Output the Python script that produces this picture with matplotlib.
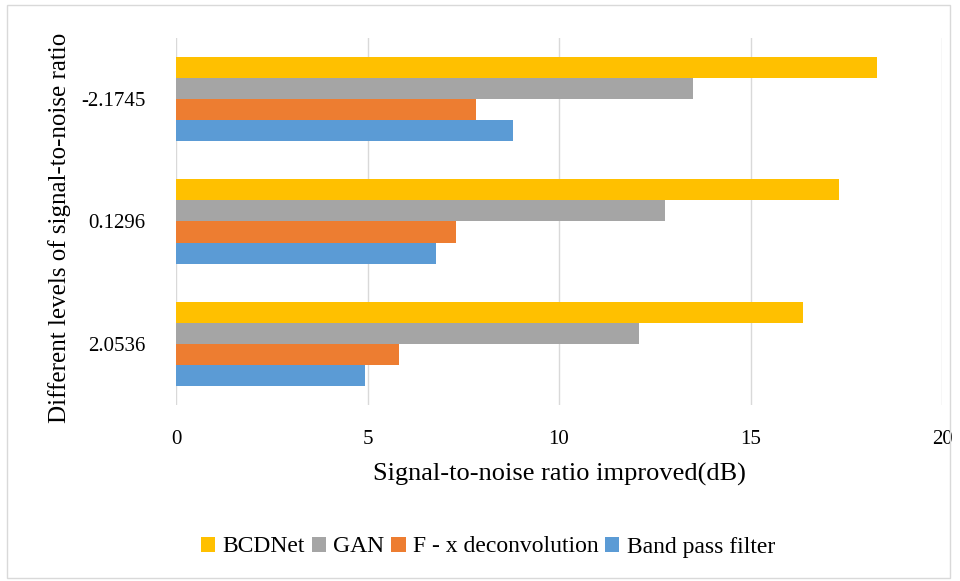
import numpy as np
import matplotlib
matplotlib.use("Agg")
import matplotlib.pyplot as plt
from matplotlib.patches import Rectangle

plt.rcParams["font.family"] = ["Liberation Serif", "DejaVu Serif"]

levels = ["2.0536", "0.1296", "-2.1745"]
bcdnet = [16.37, 17.31, 18.30]
gan = [12.09, 12.76, 13.49]
fx_decon = [5.81, 7.31, 7.84]
band_pass = [4.94, 6.80, 8.80]

series = [
    ("Band pass filter", band_pass, "#5B9BD5"),
    ("F - x deconvolution", fx_decon, "#ED7D31"),
    ("GAN", gan, "#A5A5A5"),
    ("BCDNet", bcdnet, "#FFC000"),
]

fig = plt.figure(figsize=(9.6, 5.81), dpi=100)
ax = fig.add_axes([176 / 960, 1 - 405 / 581, (942 - 176) / 960, (405 - 38) / 581])

y = np.arange(len(levels))
h = 0.172
handles = {}
for i, (name, vals, col) in enumerate(series):
    b = ax.barh(y + (i - 1.5) * h, vals, height=h, color=col, label=name, zorder=3)
    handles[name] = b

ax.set_xlim(0, 20)
ax.set_ylim(-0.5, 2.5)
ax.set_xticks([0, 5, 10, 15, 20])
ax.set_yticks(y)
ax.set_yticklabels(levels)
ax.tick_params(length=0, labelsize=15)
ax.tick_params(axis="y", pad=22)
ax.tick_params(axis="x", pad=18)
ax.grid(axis="x", color="#D9D9D9", linewidth=1, zorder=0)
for s in ax.spines.values():
    s.set_visible(False)

ax.set_xlabel("Signal-to-noise ratio improved(dB)", fontsize=19, labelpad=10)
fig.text(60 / 960, 1 - 228 / 581, "Different levels of signal-to-noise ratio",
         rotation=90, ha="center", va="center", fontsize=18)

order = ["BCDNet", "GAN", "F - x deconvolution", "Band pass filter"]
fig.legend([handles[n] for n in order], order, loc="center",
           bbox_to_anchor=(488 / 960, 1 - 547 / 581), ncol=4, frameon=False,
           fontsize=17, handlelength=0.6, handleheight=0.6, handletextpad=0.3,
           columnspacing=0.3)

fig.patches.append(Rectangle((0.007, 0.005), 0.983, 0.987, transform=fig.transFigure,
                             fill=False, edgecolor="#D9D9D9", linewidth=1))

fig.savefig("out.png", dpi=100)
